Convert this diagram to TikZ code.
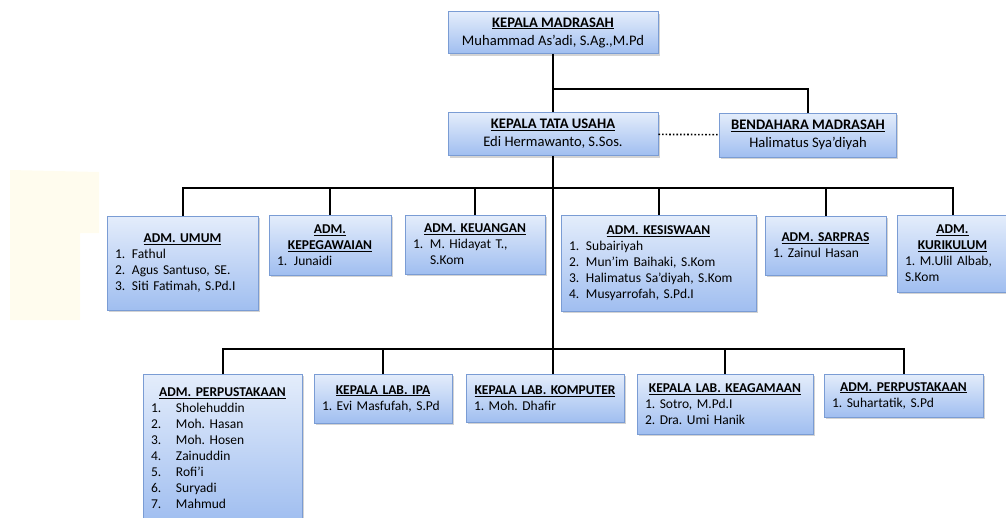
\documentclass[tikz,border=0pt]{standalone}
\usepackage{fontspec}
\setmainfont{Carlito}
\frenchspacing
\usetikzlibrary{shadows}
\definecolor{kotakatas}{RGB}{228,237,251}
\definecolor{kotakbawah}{RGB}{160,190,240}
\definecolor{garistepi}{RGB}{122,156,212}
\definecolor{krem}{RGB}{255,252,238}
\newcommand{\judul}[1]{\makebox[\linewidth][c]{\underline{\textbf{#1}}}\\}
\newcommand{\nomor}[1]{\makebox[17pt][l]{#1}}
\newcommand{\nomorlebar}[1]{\makebox[25pt][l]{#1}}

\begin{document}
\begin{tikzpicture}[x=1pt,y=-1pt,
  kotak/.style={draw=garistepi, line width=.8pt, top color=kotakatas, bottom color=kotakbawah,
    drop shadow={shadow xshift=1.5pt, shadow yshift=-2pt, opacity=.35},
    inner xsep=8pt, inner ysep=0pt, font=\fontsize{13.5}{16}\selectfont\frenchspacing},
  kotakbesar/.style={kotak, align=center, font=\fontsize{14.6}{18}\selectfont\frenchspacing},
  garis/.style={line width=2pt, black}]
\useasboundingbox (0,0) rectangle (1006,517);
\fill[krem] (10,170) -- (99,172) -- (99,233) -- (80,233) -- (80,320) -- (10,320) -- cycle; % left patch

% top
\node[kotakbesar, minimum width=210, minimum height=42] (kepala) at (553,32.5)
  {\underline{\textbf{KEPALA MADRASAH}}\\Muhammad As’adi, S.Ag.,M.Pd};
\node[kotakbesar, minimum width=210, minimum height=43] (tu) at (553,134)
  {\underline{\textbf{KEPALA TATA USAHA}}\\Edi Hermawanto, S.Sos.};
\node[kotakbesar, minimum width=177, minimum height=44] (bendahara) at (808,135)
  {\underline{\textbf{BENDAHARA MADRASAH}}\\Halimatus Sya’diyah};

% second row
\node[kotak, text width=135, minimum height=94, align=left] (umum) at (182.5,263)
  {\judul{ADM. UMUM}\nomor{1.}Fathul\\\nomor{2.}Agus Santuso, SE.\\\nomor{3.}Siti Fatimah, S.Pd.I};
\node[kotak, text width=106, minimum height=60, align=left] (pegawai) at (330,245)
  {\judul{ADM.}\judul{KEPEGAWAIAN}\nomor{1.}Junaidi};
\node[kotak, text width=124, minimum height=59, align=left] (keuangan) at (475,244.5)
  {\judul{ADM. KEUANGAN}\nomor{1.}M. Hidayat T.,\\\nomor{}S.Kom};
\node[kotak, text width=179, minimum height=96, align=left] (siswa) at (658.5,263)
  {\judul{ADM. KESISWAAN}\nomor{1.}Subairiyah\\\nomor{2.}Mun’im Baihaki, S.Kom\\\nomor{3.}Halimatus Sa’diyah, S.Kom\\\nomor{4.}Musyarrofah, S.Pd.I};
\node[kotak, text width=105, minimum height=59, align=left] (sarpras) at (825.5,245.5)
  {\judul{ADM. SARPRAS}1. Zainul Hasan};
\node[kotak, text width=95, minimum height=77, align=left] (kurikulum) at (952.5,253.5)
  {\judul{ADM.}\judul{KURIKULUM}1. M.Ulil Albab,\\S.Kom};

% third row
\node[kotak, text width=143, minimum height=148, align=left] (pustaka) at (222.5,448)
  {\judul{ADM. PERPUSTAKAAN}\nomorlebar{1.}Sholehuddin\\\nomorlebar{2.}Moh. Hasan\\\nomorlebar{3.}Moh. Hosen\\\nomorlebar{4.}Zainuddin\\\nomorlebar{5.}Rofi’i\\\nomorlebar{6.}Suryadi\\\nomorlebar{7.}Mahmud};
\node[kotak, text width=122, minimum height=49, align=left] (ipa) at (383,398.5)
  {\judul{KEPALA LAB. IPA}1. Evi Masfufah, S.Pd};
\node[kotak, text width=142, minimum height=48, align=left] (komputer) at (545,398)
  {\judul{KEPALA LAB. KOMPUTER}1. Moh. Dhafir};
\node[kotak, text width=160, minimum height=60, align=left] (agama) at (725,404)
  {\judul{KEPALA LAB. KEAGAMAAN}1. Sotro, M.Pd.I\\2. Dra. Umi Hanik};
\node[kotak, text width=143, minimum height=43, align=left] (pustakadua) at (903.5,395.5)
  {\judul{ADM. PERPUSTAKAAN}1. Suhartatik, S.Pd};

% connectors
\coordinate (cabang) at (553,89);
\coordinate (busatas) at (0,188);
\coordinate (busbawah) at (0,349);
\draw[garis] (kepala) -- (tu);
\draw[garis] (cabang) -| (bendahara);
\draw[dotted, line width=1.6pt] (tu) -- (bendahara);
\draw[garis] (tu.south) -- (tu.south |- busbawah);
\draw[garis] (umum.north) -- (umum.north |- busatas) -- (kurikulum.north |- busatas) -- (kurikulum.north);
\foreach \n in {pegawai,keuangan,siswa,sarpras}
  \draw[garis] (\n.north) -- (\n.north |- busatas);
\draw[garis] (pustaka.north) -- (pustaka.north |- busbawah) -- (pustakadua.north |- busbawah) -- (pustakadua.north);
\foreach \n in {ipa,agama}
  \draw[garis] (\n.north) -- (\n.north |- busbawah);
\draw[garis] (tu.south |- busbawah) -- (tu.south |- komputer.north);

\end{tikzpicture}
\end{document}
